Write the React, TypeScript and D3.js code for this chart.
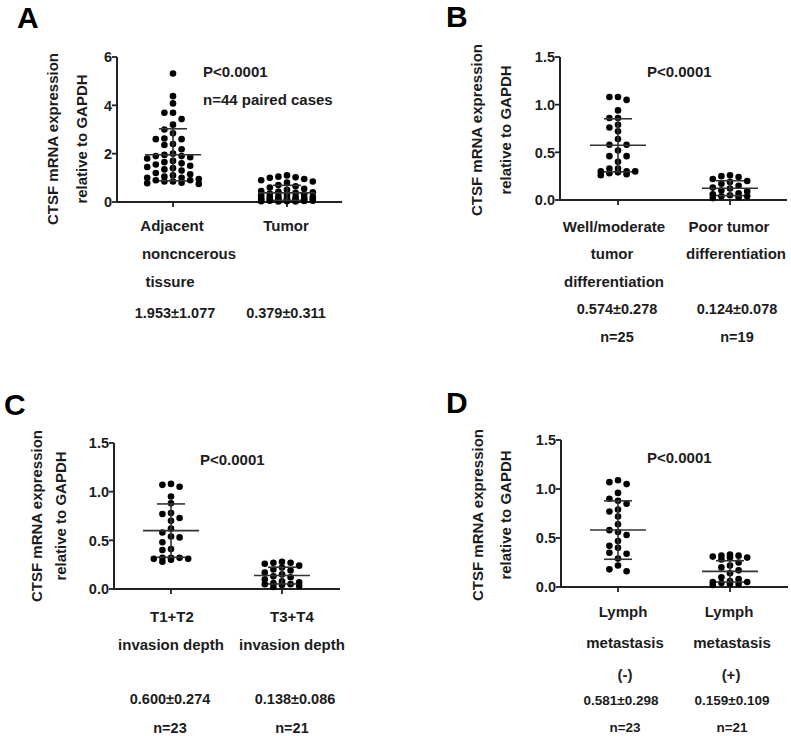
import React from 'react';
import * as d3 from 'd3';

// ---------- DATA ----------
const panelLetters = ['A', 'B', 'C', 'D'];
const yAxisTitle = ['CTSF mRNA expression', 'relative to GAPDH'];
const pValueText = 'P<0.0001';
const extraNoteA = 'n=44 paired cases';

const yTicksA = [0, 2, 4, 6];
const yTicksBCD = [0, 0.5, 1.0, 1.5];

// category label lines
const catLabelsA = [['Adjacent', 'noncncerous', 'tissure'], ['Tumor']];
const catLabelsB = [['Well/moderate', 'tumor', 'differentiation'], ['Poor tumor', 'differentiation']];
const catLabelsC = [['T1+T2', 'invasion depth'], ['T3+T4', 'invasion depth']];
const catLabelsD = [['Lymph', 'metastasis', '(-)'], ['Lymph', 'metastasis', '(+)']];

// summary statistics
const meansA = [1.953, 0.379];
const sdsA = [1.077, 0.311];
const meansB = [0.574, 0.124];
const sdsB = [0.278, 0.078];
const meansC = [0.6, 0.138];
const sdsC = [0.274, 0.086];
const meansD = [0.581, 0.159];
const sdsD = [0.298, 0.109];

const countsB = ['n=25', 'n=19'];
const countsC = ['n=23', 'n=21'];
const countsD = ['n=23', 'n=21'];

// individual values
const adjacentA = [5.32, 4.38, 4.08, 3.69, 3.69, 3.43, 3.2, 3.0, 2.84, 2.63, 2.6, 2.6, 2.4, 2.36, 2.18,
  2.0, 1.95, 1.9, 1.9, 1.85, 1.8, 1.7, 1.65, 1.6, 1.55, 1.5, 1.45, 1.4, 1.35, 1.3, 1.2, 1.15, 1.1, 1.05,
  1.0, 1.0, 0.95, 0.9, 0.9, 0.85, 0.85, 0.8, 0.78, 0.75];
const tumorA = [1.1, 1.05, 1.02, 1.0, 0.95, 0.9, 0.85, 0.8, 0.7, 0.65, 0.6, 0.55, 0.5, 0.45, 0.42,
  0.4, 0.38, 0.35, 0.32, 0.3, 0.28, 0.25, 0.22, 0.2, 0.2, 0.18, 0.16, 0.15, 0.14, 0.12, 0.12, 0.1, 0.1,
  0.09, 0.08, 0.07, 0.06, 0.05, 0.05, 0.04, 0.03, 0.03, 0.02, 0.02];
const wellB = [1.08, 1.05, 1.08, 0.94, 0.86, 0.86, 0.79, 0.76, 0.72, 0.64, 0.58, 0.58, 0.52, 0.46, 0.46,
  0.4, 0.33, 0.33, 0.3, 0.3, 0.29, 0.28, 0.27, 0.3, 0.26];
const poorB = [0.26, 0.25, 0.24, 0.22, 0.2, 0.19, 0.17, 0.15, 0.13, 0.12, 0.1, 0.09, 0.07, 0.06, 0.05,
  0.04, 0.04, 0.03, 0.02];
const t12C = [1.07, 1.05, 1.08, 0.95, 0.88, 0.78, 0.77, 0.73, 0.7, 0.62, 0.58, 0.53, 0.54, 0.48, 0.41,
  0.4, 0.32, 0.32, 0.31, 0.31, 0.32, 0.3, 0.28];
const t34C = [0.28, 0.27, 0.27, 0.26, 0.24, 0.22, 0.2, 0.19, 0.17, 0.15, 0.13, 0.12, 0.1, 0.08, 0.07,
  0.06, 0.05, 0.05, 0.04, 0.03, 0.02];
const lymphNegD = [1.09, 1.05, 1.07, 0.96, 0.88, 0.85, 0.9, 0.77, 0.79, 0.72, 0.64, 0.56, 0.58, 0.53,
  0.47, 0.4, 0.42, 0.35, 0.34, 0.29, 0.22, 0.18, 0.16];
const lymphPosD = [0.33, 0.32, 0.32, 0.31, 0.3, 0.3, 0.28, 0.25, 0.22, 0.2, 0.17, 0.14, 0.1, 0.08, 0.06,
  0.05, 0.05, 0.04, 0.03, 0.03, 0.02];

// ---------- LAYOUT ----------
interface PanelLayout {
  letter: [number, number];
  axisX: number; y0: number; yTop: number; xEnd: number;
  cats: [number, number]; maxCols: number;
  titleX: [number, number]; titleY: number;
  p: [number, number]; note?: [number, number];
  labelX: number[][]; labelY: number[];
  statX: [number, number]; statY: number; statSize: number;
  nX?: [number, number]; nY?: number;
}

const layouts: PanelLayout[] = [
  { letter: [17, 28], axisX: 117, y0: 202, yTop: 57, xEnd: 342, cats: [173, 287], maxCols: 3,
    titleX: [53, 82], titleY: 139, p: [203, 72], note: [203, 100],
    labelX: [[172, 189, 170], [286]], labelY: [226, 254, 282],
    statX: [175, 286], statY: 313, statSize: 14.5 },
  { letter: [446, 27], axisX: 560, y0: 200, yTop: 57, xEnd: 787, cats: [618, 730], maxCols: 2,
    titleX: [477, 506], titleY: 130, p: [647, 72],
    labelX: [[614, 612, 614], [729, 736]], labelY: [227, 254, 282],
    statX: [617, 737], statY: 309, statSize: 14.5, nX: [617, 737], nY: 337 },
  { letter: [4, 415], axisX: 114, y0: 589, yTop: 443, xEnd: 340, cats: [171, 282], maxCols: 2,
    titleX: [37, 61], titleY: 516, p: [200, 460],
    labelX: [[172, 171], [292, 292]], labelY: [617, 645],
    statX: [170, 295], statY: 699, statSize: 14.5, nX: [170, 292], nY: 728 },
  { letter: [446, 413], axisX: 561, y0: 587, yTop: 440, xEnd: 788, cats: [618, 730], maxCols: 2,
    titleX: [478, 506], titleY: 515, p: [647, 458],
    labelX: [[623, 625, 625], [729, 732, 731]], labelY: [612, 643, 675],
    statX: [621, 732], statY: 700, statSize: 13.5, nX: [625, 732], nY: 727 },
];

const FONT = '"Liberation Sans", Arial, Helvetica, sans-serif';
const TEXT = '#1c1c1c';
const INK = '#222';
const R = 3.3;
const COL = 8.6;

function beeswarm(values: number[], y: d3.ScaleLinear<number, number>, maxCols: number): { v: number; dx: number }[] {
  const sorted = [...values].sort((a, b) => b - a);
  const cols = new Map<number, number[]>();
  const out: { v: number; dx: number }[] = [];
  const order: number[] = [0];
  for (let k = 1; k <= maxCols; k++) order.push(-k, k);
  for (const v of sorted) {
    const py = y(v);
    let chosen: number | null = null;
    for (const c of order) {
      const arr = cols.get(c) || [];
      if (arr.every((q) => Math.abs(q - py) >= 2 * R * 0.98)) { chosen = c; break; }
    }
    if (chosen === null) {
      let best = -1;
      for (const c of order) {
        const arr = cols.get(c) || [];
        const clear = d3.min(arr, (q) => Math.abs(q - py)) ?? Infinity;
        if (clear > best + 0.01) { best = clear; chosen = c; }
      }
    }
    const arr = cols.get(chosen!) || [];
    arr.push(py);
    cols.set(chosen!, arr);
    out.push({ v, dx: chosen! * COL });
  }
  return out;
}

interface PanelData {
  groups: number[][];
  means: number[];
  sds: number[];
  labels: string[][];
  stats: string[];
  counts?: string[];
  yMax: number;
  ticks: number[];
  fmt: (n: number) => string;
}

const panelData: PanelData[] = [
  { groups: [adjacentA, tumorA], means: meansA, sds: sdsA, labels: catLabelsA,
    stats: meansA.map((m, i) => `${m.toFixed(3)}±${sdsA[i].toFixed(3)}`),
    yMax: 6, ticks: yTicksA, fmt: d3.format('d') },
  { groups: [wellB, poorB], means: meansB, sds: sdsB, labels: catLabelsB,
    stats: meansB.map((m, i) => `${m.toFixed(3)}±${sdsB[i].toFixed(3)}`), counts: countsB,
    yMax: 1.5, ticks: yTicksBCD, fmt: d3.format('.1f') },
  { groups: [t12C, t34C], means: meansC, sds: sdsC, labels: catLabelsC,
    stats: meansC.map((m, i) => `${m.toFixed(3)}±${sdsC[i].toFixed(3)}`), counts: countsC,
    yMax: 1.5, ticks: yTicksBCD, fmt: d3.format('.1f') },
  { groups: [lymphNegD, lymphPosD], means: meansD, sds: sdsD, labels: catLabelsD,
    stats: meansD.map((m, i) => `${m.toFixed(3)}±${sdsD[i].toFixed(3)}`), counts: countsD,
    yMax: 1.5, ticks: yTicksBCD, fmt: d3.format('.1f') },
];

function Panel({ idx }: { idx: number }) {
  const L = layouts[idx];
  const D = panelData[idx];
  const y = d3.scaleLinear().domain([0, D.yMax]).range([L.y0, L.yTop]);
  const x = d3.scalePoint<number>().domain([0, 1]).range(L.cats);
  const fs = 15;
  return (
    <g>
      <text x={L.letter[0]} y={L.letter[1]} fontSize={30} fontWeight="bold" fill="#000" fontFamily={FONT}>
        {panelLetters[idx]}
      </text>
      {yAxisTitle.map((t, i) => (
        <text key={i} transform={`translate(${L.titleX[i]},${L.titleY}) rotate(-90)`} textAnchor="middle"
          dy="0.36em" fontSize={fs} fontWeight="bold" fill={TEXT} fontFamily={FONT}>{t}</text>
      ))}
      {/* axes */}
      <line x1={L.axisX} x2={L.axisX} y1={y(D.yMax)} y2={L.y0} stroke={INK} strokeWidth={2} />
      <line x1={L.axisX - 1} x2={L.xEnd} y1={L.y0} y2={L.y0} stroke={INK} strokeWidth={2} />
      {D.ticks.map((t) => (
        <g key={t}>
          <line x1={L.axisX - 5} x2={L.axisX} y1={y(t)} y2={y(t)} stroke={INK} strokeWidth={1.8} />
          <text x={L.axisX - 5} y={y(t)} dy="0.36em" textAnchor="end" fontSize={14.5} fontWeight="bold"
            fill={TEXT} fontFamily={FONT}>{D.fmt(t)}</text>
        </g>
      ))}
      {[0, 1].map((c) => (
        <line key={c} x1={x(c)} x2={x(c)} y1={L.y0} y2={L.y0 + 5} stroke={INK} strokeWidth={1.8} />
      ))}
      {/* points */}
      {D.groups.map((vals, g) => (
        <g key={g}>
          {beeswarm(vals, y, L.maxCols).map((p, i) => (
            <circle key={i} cx={(x(g) as number) + p.dx} cy={y(p.v)} r={R} fill="#000" />
          ))}
        </g>
      ))}
      {/* mean and SD */}
      {D.means.map((m, g) => {
        const cx = x(g) as number;
        const lo = Math.max(0, m - D.sds[g]);
        const hi = m + D.sds[g];
        return (
          <g key={g} stroke="#333" strokeWidth={1.6}>
            <line x1={cx - 28} x2={cx + 28} y1={y(m)} y2={y(m)} />
            <line x1={cx} x2={cx} y1={y(lo)} y2={y(hi)} />
            <line x1={cx - 14} x2={cx + 14} y1={y(hi)} y2={y(hi)} />
            <line x1={cx - 14} x2={cx + 14} y1={y(lo)} y2={y(lo)} />
          </g>
        );
      })}
      <text x={L.p[0]} y={L.p[1]} dy="0.36em" fontSize={fs} fontWeight="bold" fill={TEXT} fontFamily={FONT}>
        {pValueText}
      </text>
      {L.note && (
        <text x={L.note[0]} y={L.note[1]} dy="0.36em" fontSize={fs} fontWeight="bold" fill={TEXT} fontFamily={FONT}>
          {extraNoteA}
        </text>
      )}
      {D.labels.map((lines, g) =>
        lines.map((t, j) => (
          <text key={`${g}-${j}`} x={L.labelX[g][j]} y={L.labelY[j]} dy="0.36em" textAnchor="middle"
            fontSize={fs} fontWeight="bold" fill={TEXT} fontFamily={FONT}>{t}</text>
        ))
      )}
      {D.stats.map((t, g) => (
        <text key={g} x={L.statX[g]} y={L.statY} dy="0.36em" textAnchor="middle" fontSize={L.statSize}
          fontWeight="bold" fill={TEXT} fontFamily={FONT}>{t}</text>
      ))}
      {D.counts && L.nX && D.counts.map((t, g) => (
        <text key={g} x={L.nX![g]} y={L.nY} dy="0.36em" textAnchor="middle" fontSize={L.statSize}
          fontWeight="bold" fill={TEXT} fontFamily={FONT}>{t}</text>
      ))}
    </g>
  );
}

export default function App() {
  return (
    <svg width={791} height={736} style={{ position: 'absolute', left: 0, top: 0, background: '#fff' }}>
      <rect width={791} height={736} fill="#fff" />
      {[0, 1, 2, 3].map((i) => <Panel key={i} idx={i} />)}
    </svg>
  );
}
